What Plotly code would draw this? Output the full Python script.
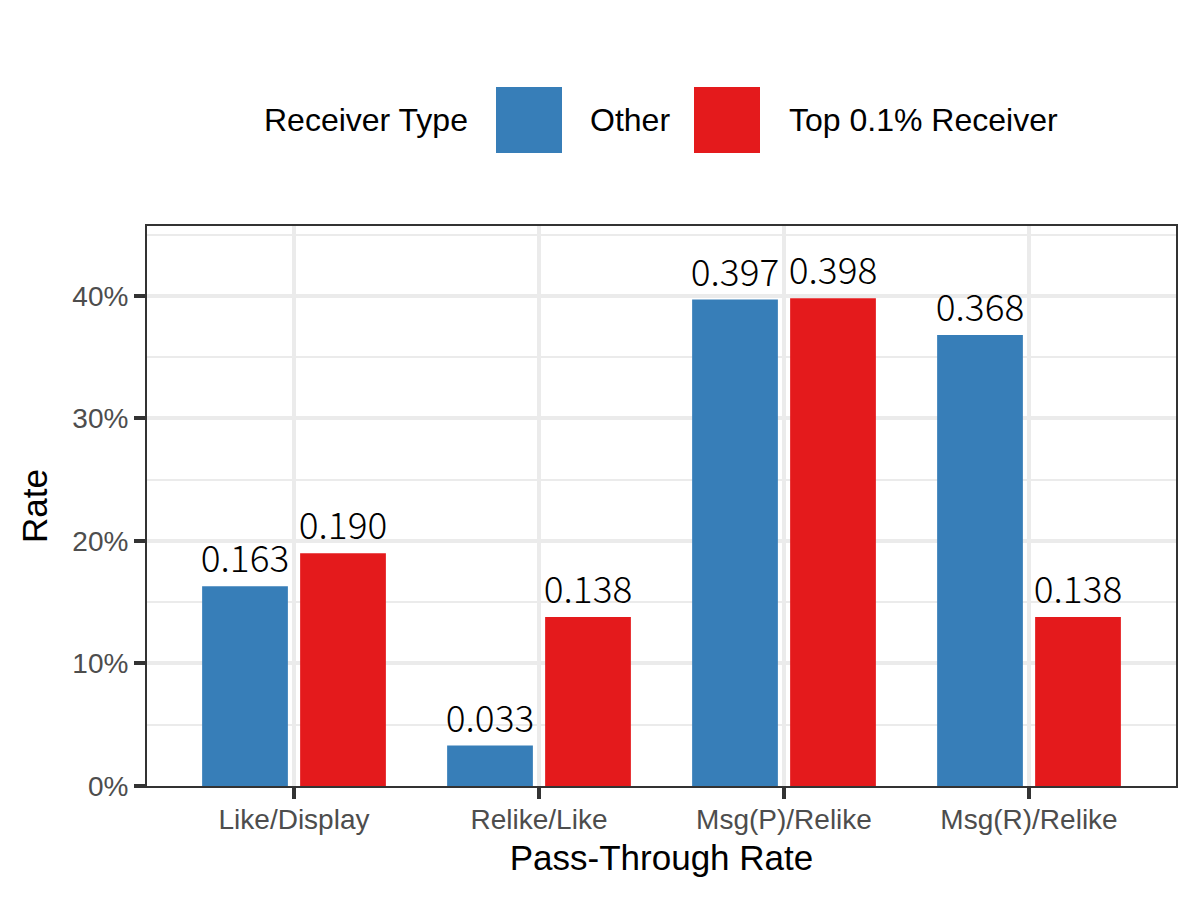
import plotly.graph_objects as go

categories = ["Like/Display", "Relike/Like", "Msg(P)/Relike", "Msg(R)/Relike"]
other_vals = [0.163, 0.033, 0.397, 0.368]
top_vals = [0.190, 0.138, 0.398, 0.138]
series_names = ["Other", "Top 0.1% Receiver"]
series_colors = ["#377EB8", "#E41A1C"]
y_ticks = [0, 0.1, 0.2, 0.3, 0.4]

OFF = 8  # page body margin
W, H = 1200 - OFF, 900 - OFF
L, R, T, B = 147 - OFF, 24, 226 - OFF, 114
PW, PH = W - L - R, H - T - B

def px_x(p):
    return (p - OFF - L) / PW

def px_y(p):
    return (H - B - (p - OFF)) / PH

BASE = "Liberation Sans, Arial, sans-serif"
LABEL_FONT = "Noto Sans CJK JP, Noto Sans, sans-serif"

fig = go.Figure()
for name, vals, color, off in zip(series_names, [other_vals, top_vals], series_colors, [-0.375, 0.025]):
    fig.add_trace(go.Bar(
        x=categories, y=vals, name=name,
        marker=dict(color=color, line=dict(width=0)),
        width=0.35, offset=off,
        text=[f"{v:.3f}" for v in vals],
        textposition="outside", constraintext="none", cliponaxis=False,
        textfont=dict(family=LABEL_FONT, size=37, color="black", weight=300),
        showlegend=False,
    ))

fig.update_layout(
    width=W, height=H,
    margin=dict(l=L, r=R, t=T, b=B, autoexpand=False),
    paper_bgcolor="white", plot_bgcolor="white",
    barmode="overlay",
    font=dict(family=BASE, color="black"),
)

fig.update_xaxes(
    type="category", range=[-0.6, 3.6],
    showgrid=True, gridcolor="#EBEBEB", gridwidth=3.5,
    showline=True, linecolor="#333333", linewidth=2, mirror=True,
    ticks="outside", ticklen=11, tickwidth=4, tickcolor="#333333",
    ticklabelstandoff=-4,
    tickfont=dict(family=BASE, size=28, color="#4D4D4D"),
    title=dict(text="Pass-Through Rate", font=dict(family=BASE, size=35, color="black"), standoff=12),
    zeroline=False,
)
fig.update_yaxes(
    range=[0, 0.457],
    tickvals=y_ticks, tickformat=".0%",
    showgrid=True, gridcolor="#EBEBEB", gridwidth=3.5,
    minor=dict(dtick=0.05, tick0=0, showgrid=True, gridcolor="#EBEBEB", gridwidth=2),
    showline=True, linecolor="#333333", linewidth=2, mirror=True,
    ticks="outside", ticklen=11, tickwidth=4, tickcolor="#333333",
    tickfont=dict(family=BASE, size=28, color="#4D4D4D"),
    title=dict(text="Rate", font=dict(family=BASE, size=35, color="black"), standoff=14),
    zeroline=False,
)

# Legend drawn manually (ggplot-style large keys)
legend_y = 120
fig.add_annotation(x=px_x(262), y=px_y(legend_y), xref="paper", yref="paper",
                   text="Receiver Type", showarrow=False, xanchor="left", yanchor="middle",
                   font=dict(family=BASE, size=32, color="black"))
keys = [(496, 588), (694, 787)]
for (kx, tx), name, color in zip(keys, series_names, series_colors):
    fig.add_shape(type="rect", xref="paper", yref="paper",
                  x0=px_x(kx), x1=px_x(kx + 66), y0=px_y(legend_y + 33), y1=px_y(legend_y - 33),
                  fillcolor=color, line=dict(width=0))
    fig.add_annotation(x=px_x(tx), y=px_y(legend_y), xref="paper", yref="paper",
                       text=name, showarrow=False, xanchor="left", yanchor="middle",
                       font=dict(family=BASE, size=32, color="black"))

fig.write_html("out.html")
